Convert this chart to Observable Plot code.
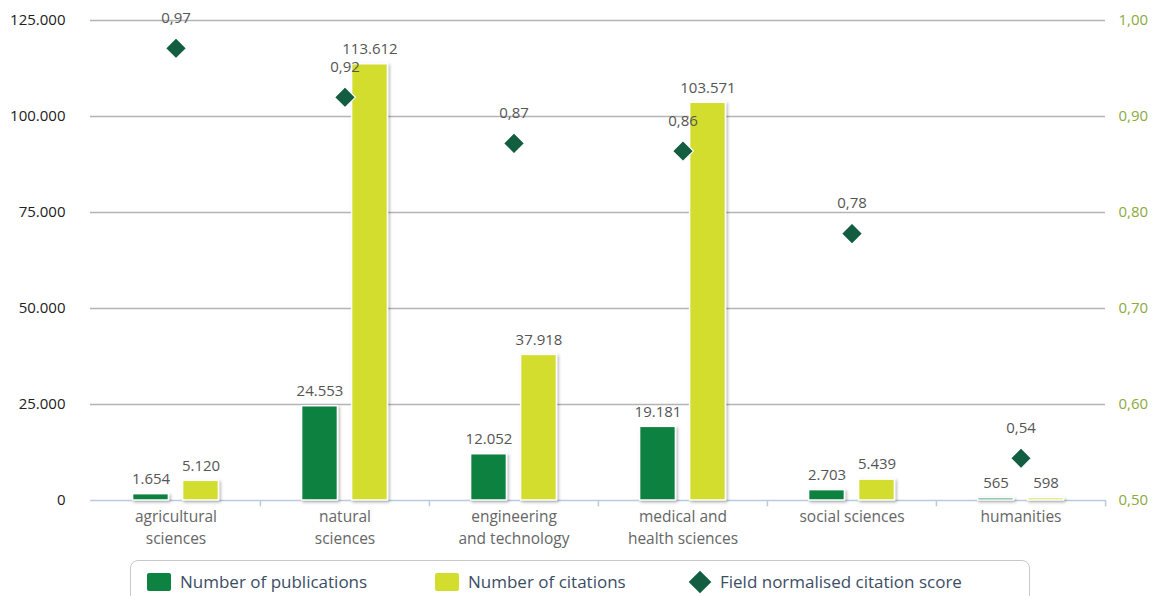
<!DOCTYPE html>
<html>
<head>
<meta charset="utf-8">
<script src="https://cdn.jsdelivr.net/npm/d3@7"></script>
<script src="https://cdn.jsdelivr.net/npm/@observablehq/plot@0.6"></script>
<style>
  html, body { margin: 0; padding: 0; background: #fff; }
  body { width: 1155px; height: 596px; overflow: hidden; font-family: "Open Sans", Lato, sans-serif; }
  #legend { position: relative; margin-left: 130px; margin-top: 8px; width: 900px; height: 60px;
            border: 1px solid #c9c9cc; border-radius: 8px; box-sizing: border-box; }
  .item { position: absolute; top: 10px; font-size: 17px; color: #3b4d66; line-height: 22px; }
  .sw { position: absolute; top: 12px; width: 24px; height: 18px; border-radius: 2px; }
  .dia { position: absolute; top: 13px; width: 16px; height: 16px; background: #135e40; transform: rotate(45deg); }
</style>
</head>
<body>
<div id="chart"></div>
<div id="legend"></div>
<script>
const categories = ["agricultural sciences", "natural sciences", "engineering and technology", "medical and health sciences", "social sciences", "humanities"];
const categoryLabels = ["agricultural\nsciences", "natural\nsciences", "engineering\nand technology", "medical and\nhealth sciences", "social sciences", "humanities"];
const publications = [1654, 24553, 12052, 19181, 2703, 565];
const citations = [5120, 113612, 37918, 103571, 5439, 598];
const scores = [0.971, 0.920, 0.872, 0.864, 0.778, 0.544];
const leftTicks = [0, 25000, 50000, 75000, 100000, 125000];
const rightTicks = [0.5, 0.6, 0.7, 0.8, 0.9, 1.0];
const seriesNames = ["Number of publications", "Number of citations", "Field normalised citation score"];

const colPub = "#0e8241", colCit = "#d2dd2e", colScore = "#135e40";

const loc = d3.formatLocale({decimal: ",", thousands: ".", grouping: [3], currency: ["", ""]});
const fmtInt = loc.format(",d");
const fmtScore = loc.format(".2f");

const width = 1155, height = 552, mL = 90, mR = 50, mT = 20, mB = 52;
const band = (width - mL - mR) / categories.length;
const barW = 36, off = 25;
// score axis mapped onto the count axis: 0.5 -> 0, 1.0 -> 125000
const yMax = 125000, sMin = 0.5, sMax = 1.0;
const toY = s => (s - sMin) / (sMax - sMin) * yMax;

const rows = categories.map((c, i) => ({c, label: categoryLabels[i], pub: publications[i], cit: citations[i], score: scores[i], sy: toY(scores[i])}));
const labelOf = Object.fromEntries(categories.map((c, i) => [c, categoryLabels[i]]));
const font = "'Open Sans', Lato, sans-serif";

const plot = Plot.plot({
  width, height,
  marginLeft: mL, marginRight: mR, marginTop: mT, marginBottom: mB,
  style: {fontFamily: font, background: "#fff"},
  x: {domain: categories, padding: 0, axis: null, label: null},
  y: {domain: [0, yMax], axis: null, label: null},
  marks: [
    Plot.ruleY(leftTicks.filter(d => d > 0), {stroke: "#b3b3b8", strokeWidth: 1.5}),
    Plot.ruleY([0], {stroke: "#b9cbdc", strokeWidth: 1.5}),
    Plot.ruleX(categories.slice(1), {x: d => d, dx: -band / 2, y1: 0, y2: -1650, stroke: "#b9cbdc", strokeWidth: 1.5}),
    Plot.ruleX(categories.slice(-1), {x: d => d, dx: band / 2, y1: 0, y2: -1650, stroke: "#b9cbdc", strokeWidth: 1.5}),
    Plot.barY(rows, {x: "c", y: "pub", fill: colPub, stroke: "#fff", strokeWidth: 1.5,
      insetLeft: band / 2 - off - barW / 2, insetRight: band / 2 + off - barW / 2}),
    Plot.barY(rows, {x: "c", y: "cit", fill: colCit, stroke: "#fff", strokeWidth: 1.5,
      insetLeft: band / 2 + off - barW / 2, insetRight: band / 2 - off - barW / 2}),
    Plot.text(rows, {x: "c", y: "pub", dx: -off, dy: -15, text: d => fmtInt(d.pub), fill: "#555", fontSize: 15}),
    Plot.text(rows, {x: "c", y: "cit", dx: off, dy: -15, text: d => fmtInt(d.cit), fill: "#555", fontSize: 15}),
    Plot.dot(rows, {x: "c", y: "sy", symbol: "diamond2", r: 9.4, fill: colScore, stroke: "#fff", strokeWidth: 1.2}),
    Plot.text(rows, {x: "c", y: "sy", dy: -30, text: d => fmtScore(d.score), fill: "#555", fontSize: 15}),
    Plot.axisY(leftTicks, {anchor: "left", label: null, tickSize: 0, tickPadding: 25, tickFormat: fmtInt, fontSize: 15, color: "#222"}),
    Plot.axisY(rightTicks.map(toY), {anchor: "right", label: null, tickSize: 0, tickPadding: 13, tickFormat: v => fmtScore(v / yMax * (sMax - sMin) + sMin), fontSize: 15, color: "#8aab3b"}),
    Plot.axisX({anchor: "bottom", label: null, tickSize: 0, tickPadding: 6, tickFormat: c => labelOf[c], fontSize: 15.5, color: "#666", lineHeight: 1.42})
  ]
});

// drop shadow for bars
const svg = d3.select(plot);
const defs = svg.insert("defs", ":first-child");
const f = defs.append("filter").attr("id", "shadow").attr("x", "-30%").attr("y", "-10%").attr("width", "160%").attr("height", "130%");
f.append("feDropShadow").attr("dx", 1.5).attr("dy", 1.5).attr("stdDeviation", 1.5).attr("flood-color", "#000").attr("flood-opacity", 0.3);
svg.selectAll('g[aria-label="bar"]').attr("filter", "url(#shadow)");

document.getElementById("chart").appendChild(plot);

// legend
const lg = d3.select("#legend");
lg.append("div").attr("class", "sw").style("left", "16px").style("background", colPub);
lg.append("div").attr("class", "item").style("left", "49px").text(seriesNames[0]);
lg.append("div").attr("class", "sw").style("left", "304px").style("background", colCit);
lg.append("div").attr("class", "item").style("left", "337px").text(seriesNames[1]);
lg.append("div").attr("class", "dia").style("left", "561px");
lg.append("div").attr("class", "item").style("left", "589px").text(seriesNames[2]);
</script>
</body>
</html>
